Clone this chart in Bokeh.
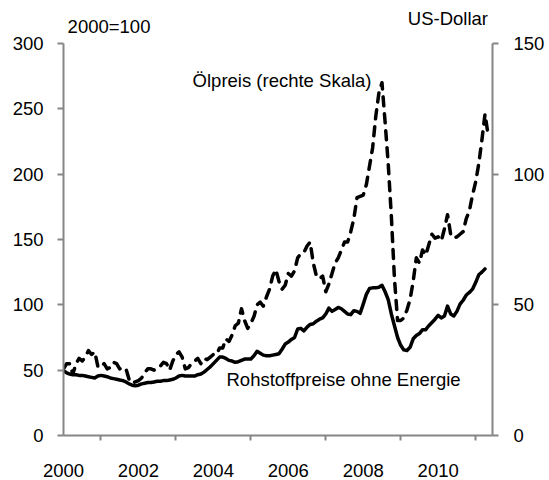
import numpy as np
from bokeh.plotting import figure
from bokeh.models import Range1d, LinearAxis, FixedTicker, Label, PrintfTickFormatter
from bokeh.embed import file_html
from bokeh.resources import INLINE

# Monthly values, Jan 2000 onwards
commodities = [
    49.5, 48, 47, 46.5, 46.5, 46, 46, 45.5, 45, 44.5, 44, 45.5,          # 2000
    46, 45.5, 45, 44, 43.5, 43, 42.5, 42, 41, 39.5, 38.5, 38,            # 2001
    38.5, 39.5, 40, 40.5, 40.5, 41, 41.5, 41.5, 42, 42, 42.5, 43,        # 2002
    44, 45.5, 46, 45.5, 45.5, 45.5, 45.5, 46.5, 47, 48.5, 50.5, 52.5,    # 2003
    55, 57.5, 60, 60, 59, 57.5, 57, 56, 56.5, 57.5, 58.5, 58.5,          # 2004
    58.5, 61, 64.5, 63, 61.5, 61, 61, 61.5, 62, 62.5, 66, 70,            # 2005
    71.5, 73.5, 75, 81.5, 82, 80, 83, 85, 85.5, 87.5, 89, 90,            # 2006
    93, 97.5, 95, 96.5, 98, 97, 95, 93, 92.5, 95.5, 95, 93.5,            # 2007
    100.5, 108, 112.5, 113, 113, 113.5, 115, 110, 104, 93, 84, 75,       # 2008
    69, 65.5, 65, 67.5, 74, 76.5, 78, 81, 81, 84, 86.5, 89,              # 2009
    92, 90, 91.5, 99, 93, 91.5, 95, 100.5, 103.5, 107.5, 109.5, 112,     # 2010
    117, 123, 125, 127.5,                                                # 2011
]

oil = [
    25.5, 27.5, 27.5, 23.5, 27.5, 29.5, 28.5, 30, 32.5, 31, 32, 26.5,    # 2000
    26, 27.5, 25.5, 26, 28, 27.5, 25.5, 26, 25.5, 21.5, 20, 20.5,        # 2001
    21, 22, 24, 25.5, 25.5, 25, 25.5, 26.5, 28, 27.5, 25, 28.5,          # 2002
    31, 32, 30, 25.5, 26, 27.5, 28.5, 29.5, 27.5, 29.5, 29, 30,          # 2003
    31, 31, 33.5, 33.5, 37, 36, 38.5, 42, 43, 48.5, 44, 41,              # 2004
    43, 45.5, 50, 51, 49.5, 53, 56, 61, 63.5, 59, 56, 57.5,              # 2005
    62, 61, 63, 68, 69.5, 70, 72.5, 74, 66, 61, 60, 61,                  # 2006
    55, 58, 62, 66, 68, 71, 74, 74, 78, 83, 91, 91.5,                    # 2007
    92, 96, 103, 110, 122, 131, 135, 120, 104, 84, 60, 44,               # 2008
    44, 45, 48, 52, 59, 68, 66, 71, 69, 73, 77, 75.5,                    # 2009
    76, 74.5, 79, 84.5, 77, 75.5, 76, 77, 78, 83, 86, 92,                # 2010
    97, 104, 113, 123, 115,                                              # 2011
]

year_labels = [2000, 2002, 2004, 2006, 2008, 2010]
year_minor = [2001, 2003, 2005, 2007, 2009, 2011]
left_ticks = [0, 50, 100, 150, 200, 250, 300]
right_ticks = [0, 50, 100, 150]

t_com = 2000 + np.arange(len(commodities)) / 12.0
t_oil = 2000 + np.arange(len(oil)) / 12.0

FONT = "Liberation Sans"
FS = "18.5px"
GRAY = "#868686"

# frame spans the full canvas height above the x axis; the y axes are bounded to 0-300 / 0-150
Y_TOP = 332.9
p = figure(width=549, height=480,
           x_range=Range1d(2000, 2011.45), y_range=Range1d(0, Y_TOP),
           output_backend="svg", toolbar_location=None,
           min_border_left=63, min_border_right=57,
           min_border_top=0, min_border_bottom=45,
           outline_line_color=None, background_fill_color="white",
           border_fill_color="white")
p.extra_y_ranges = {"oil": Range1d(0, Y_TOP / 2)}
p.xgrid.visible = False
p.ygrid.visible = False

# x axis
xa = p.xaxis[0]
xa.ticker = FixedTicker(ticks=year_labels, minor_ticks=year_minor)
xa.formatter = PrintfTickFormatter(format="%d")
xa.major_tick_out = 0
xa.major_tick_in = 0
xa.minor_tick_out = 5
xa.minor_tick_in = 0
xa.minor_tick_line_color = GRAY
xa.minor_tick_line_width = 2
xa.axis_line_color = GRAY
xa.axis_line_width = 2
xa.major_label_standoff = 23
xa.major_label_text_font = FONT
xa.major_label_text_font_size = FS
xa.major_label_text_color = "black"

# left axis
ya = p.yaxis[0]
ya.bounds = (0, 300)
ya.ticker = FixedTicker(ticks=left_ticks, minor_ticks=[])
ya.major_tick_out = 6
ya.major_tick_in = 0
ya.minor_tick_out = 0
ya.minor_tick_in = 0
ya.major_tick_line_color = GRAY
ya.major_tick_line_width = 2
ya.axis_line_color = GRAY
ya.axis_line_width = 2
ya.major_label_standoff = 14
ya.major_label_text_font = FONT
ya.major_label_text_font_size = FS
ya.major_label_text_color = "black"

# right axis
ra = LinearAxis(y_range_name="oil", bounds=(0, 150),
                ticker=FixedTicker(ticks=right_ticks, minor_ticks=[]))
ra.major_tick_out = 6
ra.major_tick_in = 0
ra.minor_tick_out = 0
ra.minor_tick_in = 0
ra.major_tick_line_color = GRAY
ra.major_tick_line_width = 2
ra.axis_line_color = GRAY
ra.axis_line_width = 2
ra.major_label_standoff = 15
ra.major_label_text_font = FONT
ra.major_label_text_font_size = FS
ra.major_label_text_color = "black"
p.add_layout(ra, "right")

# series
p.line(t_oil, oil, y_range_name="oil", line_color="black", line_width=3.5,
       line_dash="9 8", line_cap="round", line_join="round")
p.line(t_com, commodities, line_color="black", line_width=3.5,
       line_join="round", line_cap="round")

# texts
for txt, x, y, align in [
    ("2000=100", 2000.11, 313.2, "left"),
    ("US-Dollar", 2011.33, 319.2, "right"),
    ("Ölpreis (rechte Skala)", 2008.22, 271.3, "right"),
    ("Rohstoffpreise ohne Energie", 2004.35, 42.8, "left"),
]:
    p.add_layout(Label(x=x, y=y, text=txt, text_font=FONT, text_font_size=FS,
                       text_color="black", text_align=align, text_baseline="alphabetic"))

open("out.html", "w").write(file_html(p, INLINE))
